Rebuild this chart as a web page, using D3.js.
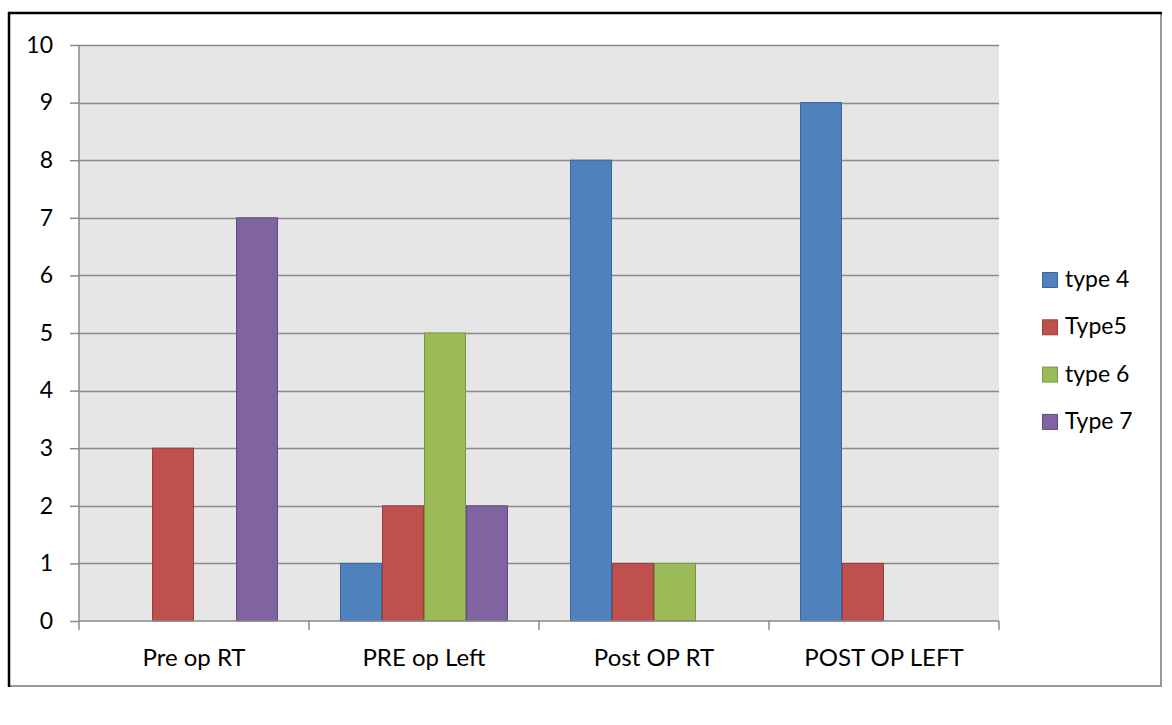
<!DOCTYPE html>
<html>
<head>
<meta charset="utf-8">
<script src="https://cdn.jsdelivr.net/npm/d3@7"></script>
<style>
  html, body { margin: 0; padding: 0; background: #fff; }
  svg { display: block; }
  text { font-family: Lato, "Open Sans", sans-serif; fill: #000; }
</style>
</head>
<body>
<svg id="chart" width="1172" height="725"></svg>
<script>
// Chart data
const categories = ["Pre op RT", "PRE op Left", "Post OP RT", "POST OP LEFT"];
const seriesNames = ["type 4", "Type5", "type 6", "Type 7"];
const type4 = [0, 1, 8, 9];
const type5 = [3, 2, 1, 1];
const type6 = [0, 5, 1, 0];
const type7 = [7, 2, 0, 0];
const yTicks = [0, 1, 2, 3, 4, 5, 6, 7, 8, 9, 10];

const seriesValues = [type4, type5, type6, type7];
const fills = ["#4F81BD", "#C0504D", "#9BBB59", "#8064A2"];
const strokes = ["#3A6699", "#9B3D3A", "#7A9645", "#634D80"];

const svg = d3.select("#chart");

// Outer frame: grey box with dark top and left edges
svg.append("rect").attr("x", 9).attr("y", 13).attr("width", 1152).attr("height", 673)
  .attr("fill", "none").attr("stroke", "#999").attr("stroke-width", 2);
svg.append("line").attr("x1", 8).attr("x2", 1162).attr("y1", 13).attr("y2", 13)
  .attr("stroke", "#000").attr("stroke-width", 2.5);
svg.append("line").attr("x1", 9).attr("x2", 9).attr("y1", 12).attr("y2", 687)
  .attr("stroke", "#000").attr("stroke-width", 2.5);

const plot = { left: 79, right: 999, top: 45, bottom: 621 };

const x0 = d3.scaleBand().domain(categories).range([plot.left, plot.right]).padding(0);
const x1 = d3.scaleBand().domain(seriesNames).range([0, x0.bandwidth()])
  .paddingInner(0).paddingOuter(0.738);
const y = d3.scaleLinear().domain([0, 10]).range([plot.bottom, plot.top]);

// Plot background
svg.append("rect").attr("x", plot.left).attr("y", plot.top)
  .attr("width", plot.right - plot.left).attr("height", plot.bottom - plot.top)
  .attr("fill", "#E6E6E6");

// Horizontal gridlines
svg.append("g").selectAll("line").data(yTicks.filter(d => d > 0)).join("line")
  .attr("x1", plot.left).attr("x2", plot.right)
  .attr("y1", d => Math.round(y(d)) + 0.5).attr("y2", d => Math.round(y(d)) + 0.5)
  .attr("stroke", "#8a8a8a").attr("stroke-width", 1.5);

// Bars
const groups = svg.append("g").selectAll("g").data(categories).join("g")
  .attr("transform", c => `translate(${x0(c)},0)`);
groups.selectAll("rect")
  .data((c, ci) => seriesNames.map((s, si) => ({ s, si, v: seriesValues[si][ci] })).filter(d => d.v > 0))
  .join("rect")
  .attr("x", d => x1(d.s) + 0.5)
  .attr("y", d => y(d.v))
  .attr("width", x1.bandwidth() - 1)
  .attr("height", d => y(0) - y(d.v))
  .attr("fill", d => fills[d.si])
  .attr("stroke", d => strokes[d.si])
  .attr("stroke-width", 1);

// Y axis
const yAxis = svg.append("g").attr("transform", `translate(${plot.left},0)`)
  .call(d3.axisLeft(y).tickValues(yTicks).tickFormat(d3.format("d")).tickSize(9).tickPadding(17));
yAxis.attr("font-size", 23).attr("font-family", "Lato, sans-serif");
yAxis.select(".domain").attr("stroke", "#8a8a8a").attr("stroke-width", 1.5).attr("d", `M0,${plot.top}V${plot.bottom}`);
yAxis.selectAll(".tick line").attr("stroke", "#8a8a8a").attr("stroke-width", 1.5);
yAxis.selectAll(".tick text").attr("fill", "#000");

// X axis
const xAxis = svg.append("g").attr("transform", `translate(0,${plot.bottom})`)
  .call(d3.axisBottom(x0).tickSize(0).tickPadding(28));
xAxis.attr("font-size", 24).attr("font-family", "Lato, sans-serif");
xAxis.select(".domain").attr("stroke", "#8a8a8a").attr("stroke-width", 1.5).attr("d", `M${plot.left},0H${plot.right}`);
xAxis.selectAll(".tick text").attr("fill", "#000");
const boundaries = categories.map(c => x0(c)).concat([plot.right]);
xAxis.append("g").selectAll("line").data(boundaries).join("line")
  .attr("x1", d => d).attr("x2", d => d).attr("y1", 0).attr("y2", 9)
  .attr("stroke", "#8a8a8a").attr("stroke-width", 1.5);

// Legend
const legend = svg.append("g").attr("transform", "translate(1042,272)");
const li = legend.selectAll("g").data(seriesNames).join("g")
  .attr("transform", (d, i) => `translate(0,${i * 47.3})`);
li.append("rect").attr("x", 0.5).attr("y", 0.5).attr("width", 15).attr("height", 15)
  .attr("fill", (d, i) => fills[i]).attr("stroke", (d, i) => strokes[i]);
li.append("text").attr("x", 23).attr("y", 7).attr("dy", "0.35em")
  .attr("font-size", 23).text(d => d);
</script>
</body>
</html>
